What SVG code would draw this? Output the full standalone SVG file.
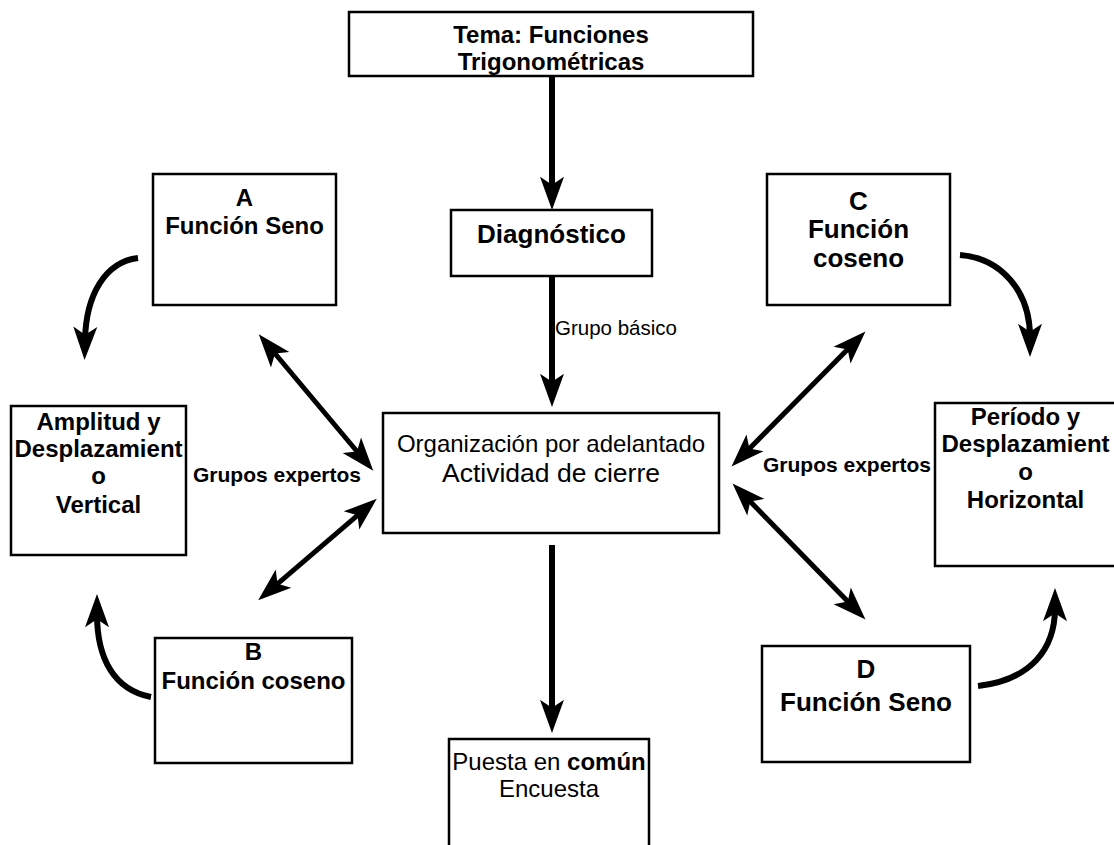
<svg xmlns="http://www.w3.org/2000/svg" width="1114" height="845" viewBox="0 0 1114 845">
<style>
.box{fill:#fff;stroke:#000;stroke-width:2.5}
.b{font-family:"Liberation Sans",Arial,sans-serif;font-weight:bold;text-anchor:middle;fill:#000}
.r{font-family:"Liberation Sans",Arial,sans-serif;text-anchor:middle;fill:#000}
.c{fill:none;stroke:#000;stroke-width:6}
.d{fill:none;stroke:#000;stroke-width:5}
</style>
<defs>
<marker id="ah" markerUnits="userSpaceOnUse" markerWidth="40" markerHeight="40" refX="0" refY="0" viewBox="-12 -12 30 24" orient="auto-start-reverse" overflow="visible">
<path d="M15,0 L-10,-9 L-4,0 L-10,9 Z" fill="#000"/>
</marker>
<clipPath id="topclip"><rect x="349" y="12" width="404" height="63"/></clipPath>
</defs>
<rect width="1114" height="845" fill="#fff"/>
<g id="connectors">
<line class="c" x1="552" y1="77" x2="552" y2="190" marker-end="url(#ah)"/>
<line class="c" x1="552" y1="276" x2="552" y2="387" marker-end="url(#ah)"/>
<line class="c" x1="552" y1="545" x2="552" y2="713" marker-end="url(#ah)"/>
<line class="d" x1="271.6" y1="349.5" x2="360.4" y2="455.5" marker-start="url(#ah)" marker-end="url(#ah)"/>
<line class="d" x1="361.6" y1="511.8" x2="273.4" y2="587.3" marker-start="url(#ah)" marker-end="url(#ah)"/>
<line class="d" x1="745.6" y1="452.4" x2="851.4" y2="345.6" marker-start="url(#ah)" marker-end="url(#ah)"/>
<line class="d" x1="746.5" y1="497.7" x2="851.5" y2="605.3" marker-start="url(#ah)" marker-end="url(#ah)"/>
<path class="c" d="M138,258 C105,262 86,295 85,340" marker-end="url(#ah)"/>
<path class="c" d="M151,697 C115,690 97,660 97,614" marker-end="url(#ah)"/>
<path class="c" d="M960,255 C1000,258 1030,290 1030,337" marker-end="url(#ah)"/>
<path class="c" d="M978,686 C1030,680 1055,650 1055,608" marker-end="url(#ah)"/>
<text class="r" x="555" y="335" style="text-anchor:start;font-size:20.5px">Grupo básico</text>
<text class="b" x="277" y="482" style="font-size:21px">Grupos expertos</text>
<text class="b" x="847" y="472" style="font-size:21px">Grupos expertos</text>
</g>
<g id="tema">
<rect class="box" x="349" y="12" width="404" height="64"/>
<g clip-path="url(#topclip)">
<text class="b" x="551" y="43" style="font-size:24px">Tema: Funciones</text>
<text class="b" x="551" y="70" style="font-size:24px">Trigonométricas</text>
</g>
</g>
<g id="diagnostico">
<rect class="box" x="451" y="210" width="201" height="66"/>
<text class="b" x="551.5" y="243" style="font-size:26px">Diagnóstico</text>
</g>
<g id="nodeA">
<rect class="box" x="153" y="174" width="183" height="131"/>
<text class="b" x="244.5" y="206" style="font-size:24px">A</text>
<text class="b" x="244.5" y="234" style="font-size:24px">Función Seno</text>
</g>
<g id="nodeC">
<rect class="box" x="767" y="174" width="183" height="131"/>
<text class="b" x="858.5" y="210" style="font-size:26px">C</text>
<text class="b" x="858.5" y="238" style="font-size:26px">Función</text>
<text class="b" x="858.5" y="267" style="font-size:26px">coseno</text>
</g>
<g id="amplitud">
<rect class="box" x="11" y="406" width="175" height="149"/>
<text class="b" x="98.5" y="430" style="font-size:24px">Amplitud y</text>
<text class="b" x="98.5" y="457" style="font-size:24px">Desplazamient</text>
<text class="b" x="98.5" y="484" style="font-size:24px">o</text>
<text class="b" x="98.5" y="513" style="font-size:24px">Vertical</text>
</g>
<g id="centro">
<rect class="box" x="383" y="413" width="336" height="120"/>
<text class="r" x="551" y="452" style="font-size:24px">Organización por adelantado</text>
<text class="r" x="551" y="482" style="font-size:26.5px">Actividad de cierre</text>
</g>
<g id="periodo">
<rect class="box" x="935" y="403" width="181" height="163"/>
<text class="b" x="1025.5" y="425" style="font-size:24px">Período y</text>
<text class="b" x="1025.5" y="452" style="font-size:24px">Desplazamient</text>
<text class="b" x="1025.5" y="480" style="font-size:24px">o</text>
<text class="b" x="1025.5" y="508" style="font-size:24px">Horizontal</text>
</g>
<g id="nodeB">
<rect class="box" x="155" y="638" width="197" height="125"/>
<text class="b" x="253.5" y="660" style="font-size:24px">B</text>
<text class="b" x="253.5" y="689" style="font-size:24px">Función coseno</text>
</g>
<g id="nodeD">
<rect class="box" x="762" y="646" width="208" height="116"/>
<text class="b" x="866" y="678" style="font-size:26px">D</text>
<text class="b" x="866" y="711" style="font-size:26px">Función Seno</text>
</g>
<g id="puesta">
<rect class="box" x="449" y="739" width="200" height="120"/>
<text class="r" x="549" y="770" style="font-size:24px">Puesta en <tspan font-weight="bold">común</tspan></text>
<text class="r" x="549" y="797" style="font-size:24px">Encuesta</text>
</g>
</svg>
